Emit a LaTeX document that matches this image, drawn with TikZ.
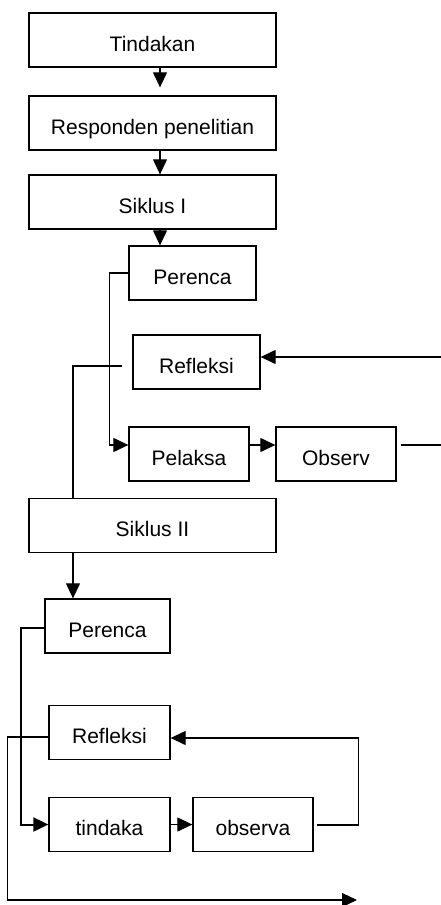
\documentclass[tikz,border=0pt]{standalone}
\usepackage{fontspec}
\setmainfont{Liberation Sans}
\usetikzlibrary{arrows.meta}

\begin{document}
\begin{tikzpicture}[x=1pt,y=-1pt,
		box/.style={draw,line width=1.3pt,inner sep=0pt,minimum height=54pt,text height=22pt,text depth=0pt,font=\fontsize{21}{25}\selectfont},
		wide/.style={box,minimum width=247pt},
		step box/.style={box,minimum width=#1},
		arr/.style={-{Triangle[length=15pt,width=14pt]},line width=1.2pt},
		heavy/.style={line width=2pt}]
		\useasboundingbox (0,0) rectangle (440,905);
		% first cycle
		\foreach \n/\t/\y in {tind/Tindakan/40,resp/Responden penelitian/123,sik1/Siklus I/202,sik2/Siklus II/525.5}
		\node[wide] (\n) at (152.5,\y) {\t};
		\node[step box=127pt] (per1) at (192.5,273) {Perenca};
		\node[step box=127pt] (ref1) at (196.5,362) {Refleksi};
		\node[step box=120pt] (pel) at (189,454) {Pelaksa};
		\node[step box=120pt] (obs) at (336,454) {Observ};
		% second cycle
		\node[step box=125pt] (per2) at (107.5,626) {Perenca};
		\node[step box=121pt] (ref2) at (109.5,732.5) {Refleksi};
		\node[step box=121pt] (tin2) at (109.5,824.5) {tindaka};
		\node[step box=120pt] (obs2) at (253,824.5) {observa};
		\path (442,445) coordinate (out1)
		(442,357) coordinate (in1)
		(357,900) coordinate (fin);
		\draw[arr,shorten >=8pt] ([xshift=7.5pt]tind.south)--([xshift=7.5pt]resp.north);
		\draw[arr] ([xshift=7.5pt]resp.south)--([xshift=7.5pt]sik1.north);
		\draw[arr] ([xshift=7.5pt]sik1.south) coordinate (s1)--(s1 |- per1.north);
		\draw[arr] (per1.west)--++(-19,0) |- ([yshift=9pt]pel.west);
		\draw[arr] ([yshift=9pt]pel.east)--([yshift=9pt]obs.west);
		\draw[heavy] ([xshift=4pt,yshift=9pt]obs.east)--(out1);
		\draw[arr] (in1)--([yshift=5pt]ref1.east);
		\draw[heavy] (in1)++(-130,0)--++(-7,0);
		\draw[heavy] ([xshift=-10pt,yshift=-4pt]ref1.west)-|([xshift=-79.5pt]sik2.north);
		\draw[arr] ([xshift=-79.5pt]sik2.south) coordinate (s2)--(s2 |- per2.north);
		\draw[arr,heavy] ([yshift=-2pt]per2.west)--++(-23,0) |- (tin2.west);
		\draw[arr] (tin2.east)--(obs2.west);
		\draw[heavy] ([xshift=3pt]obs2.east)--++(42,0) coordinate (c2);
		\draw[arr] (c2) |- ([yshift=-5.5pt]ref2.east);
		\draw[heavy] ([yshift=-4.5pt]ref2.west)--++(-41,0) coordinate (c3);
		\draw[arr] (c3) |- (fin);
	\end{tikzpicture}
\end{document}
